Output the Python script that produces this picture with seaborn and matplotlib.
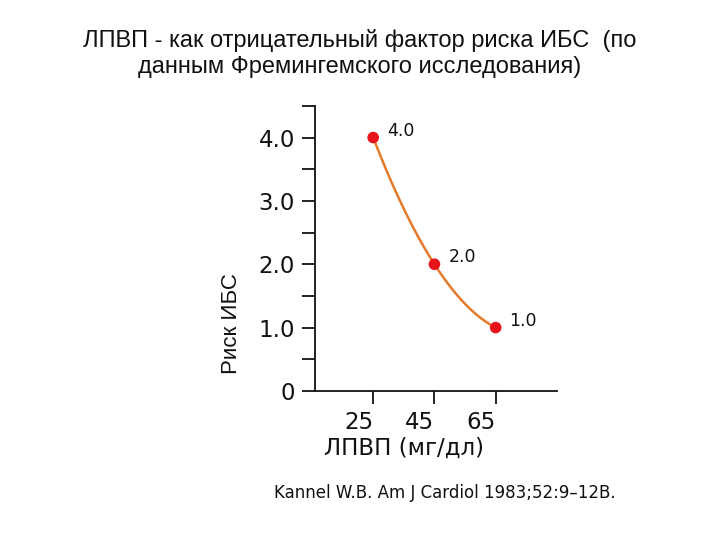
import matplotlib
matplotlib.use('Agg')
import matplotlib.pyplot as plt
import seaborn as sns
import pandas as pd

# data
hdl = [25, 45, 65]
risk = [4.0, 2.0, 1.0]
risk_labels = ["4.0", "2.0", "1.0"]
y_ticks = [0, 0.5, 1.0, 1.5, 2.0, 2.5, 3.0, 3.5, 4.0, 4.5]
y_ticklabels = ["0", "", "1.0", "", "2.0", "", "3.0", "", "4.0", ""]

TITLE = "ЛПВП - как отрицательный фактор риска ИБС  (по\nданным Фремингемского исследования)"
SOURCE = "Kannel W.B. Am J Cardiol 1983;52:9\u201312B."

df = pd.DataFrame({"hdl": hdl, "risk": risk})

sns.set_theme(style="ticks")
plt.rcParams['font.family'] = ['DejaVu Sans']
ARIAL = ["Liberation Sans", "DejaVu Sans"]

fig = plt.figure(figsize=(7.2, 5.4), dpi=100)
ax = fig.add_axes([0.4375, 0.276, 0.336, 0.528])

# smooth curve through the three points (quadratic fit by seaborn)
sns.regplot(data=df, x="hdl", y="risk", order=2, ci=None, scatter=False,
            truncate=True, color="#e47a2c", line_kws={"linewidth": 1.8}, ax=ax)
sns.scatterplot(data=df, x="hdl", y="risk", color="#e8141b", s=70,
                edgecolor="none", zorder=3, ax=ax)

for xv, yv, lab in zip(hdl, risk, risk_labels):
    ax.annotate(lab, (xv, yv), xytext=(10, 5), textcoords="offset points",
                fontsize=12.5, color="#111111", va="center", ha="left")

ax.set_xlim(6, 85)
ax.set_ylim(0, 4.5)
ax.set_xticks(hdl)
ax.set_xticklabels([str(v) for v in hdl], ha="right")
ax.set_yticks(y_ticks)
ax.set_yticklabels(y_ticklabels)

for s in ["top", "right"]:
    ax.spines[s].set_visible(False)
for s in ["left", "bottom"]:
    ax.spines[s].set_color("#111111")
    ax.spines[s].set_linewidth(1.3)

ax.tick_params(axis="both", length=9.5, width=1.3, color="#111111",
               labelsize=16.5, labelcolor="#111111")
ax.tick_params(axis="y", pad=5)
ax.tick_params(axis="x", pad=5)

ax.set_xlabel("ЛПВП (мг/дл)", fontsize=16.5, color="#111111")
ax.xaxis.set_label_coords(0.368, -0.16)
ax.set_ylabel("Риск ИБС", fontsize=16, color="#111111", family=ARIAL)
ax.yaxis.set_label_coords(-0.30, 0.235)

fig.text(0.5, 0.901, TITLE, ha="center", va="center", fontsize=17,
         linespacing=1.28, family=ARIAL, color="#111111")
fig.text(0.38, 0.087, SOURCE, ha="left", va="center", fontsize=12, color="#111111")

fig.savefig("out.png", dpi=100)
